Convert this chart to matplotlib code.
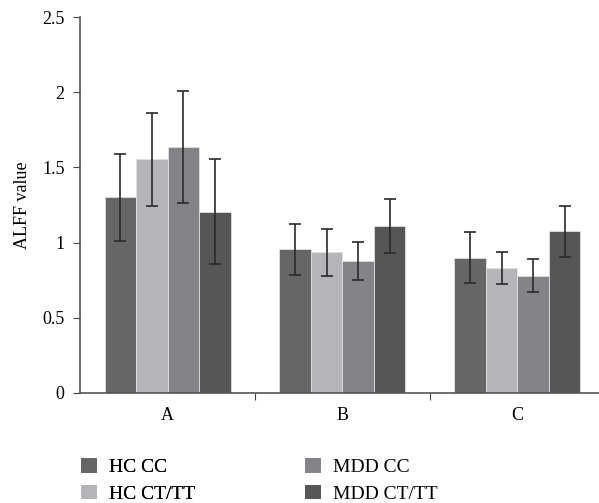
import matplotlib
matplotlib.use("Agg")
import matplotlib.pyplot as plt
import numpy as np
from matplotlib.patches import Patch

plt.rcParams['font.family'] = ['Liberation Serif', 'DejaVu Serif']

categories = ["A", "B", "C"]
series = ["HC CC", "HC CT/TT", "MDD CC", "MDD CT/TT"]
hc_cc = [1.30, 0.955, 0.90]
hc_ct = [1.555, 0.935, 0.83]
mdd_cc = [1.635, 0.88, 0.78]
mdd_ct = [1.205, 1.11, 1.075]
hc_cc_err = [0.29, 0.17, 0.17]
hc_ct_err = [0.31, 0.155, 0.105]
mdd_cc_err = [0.37, 0.127, 0.11]
mdd_ct_err = [0.35, 0.18, 0.17]

values = [hc_cc, hc_ct, mdd_cc, mdd_ct]
errors = [hc_cc_err, hc_ct_err, mdd_cc_err, mdd_ct_err]
colors = ["#666667", "#b4b5b8", "#838488", "#555657"]

fig = plt.figure(figsize=(5.99, 5.03), dpi=100)
ax = fig.add_axes([0.1336, 0.2187, 0.8664, 0.7475])

x = np.arange(len(categories))
w = 0.18
for i, (vals, errs, col) in enumerate(zip(values, errors, colors)):
    pos = x + (i - 1.5) * w
    ax.bar(pos, vals, width=w, color=col, edgecolor="#e0e0e0", linewidth=0.6, zorder=2)
    ax.errorbar(pos, vals, yerr=errs, fmt="none", ecolor="#2a2a2a",
                elinewidth=1.2, capsize=4, capthick=1.2, zorder=3)

ax.set_xlim(-0.5, 2.466)
ax.set_ylim(0, 2.5)
ax.set_yticks([0, 0.5, 1, 1.5, 2, 2.5])
ax.set_yticklabels(["0", "0.5", "1", "1.5", "2", "2.5"])
ax.set_xticks([0.5, 1.5])
ax.set_xticklabels([])
ax.set_xticks(x, minor=True)
ax.set_xticklabels(categories, minor=True)
ax.tick_params(axis="x", which="minor", length=0, pad=10, labelsize=13)
ax.tick_params(axis="x", which="major", length=5, direction="out", color="#444444")
ax.tick_params(axis="y", length=5, direction="out", color="#444444", labelsize=13, pad=6)

for s in ["top", "right"]:
    ax.spines[s].set_visible(False)
for s in ["left", "bottom"]:
    ax.spines[s].set_color("#555555")
    ax.spines[s].set_linewidth(1.2)

ax.set_ylabel("ALFF value", fontsize=13, labelpad=8)

# legend: two columns, placed separately
handles = [Patch(facecolor=c, edgecolor="none") for c in colors]
leg_kw = dict(frameon=False, loc="upper left", fontsize=14, handlelength=0.8,
              handleheight=0.8, labelspacing=0.42, handletextpad=0.65,
              borderaxespad=0, borderpad=0)
leg1 = fig.legend(handles[:2], series[:2], bbox_to_anchor=(81 / 599, 0.089), **leg_kw)
fig.legend(handles[2:], series[2:], bbox_to_anchor=(305 / 599, 0.089), **leg_kw)
fig.add_artist(leg1)

fig.savefig("out.png", dpi=100)
